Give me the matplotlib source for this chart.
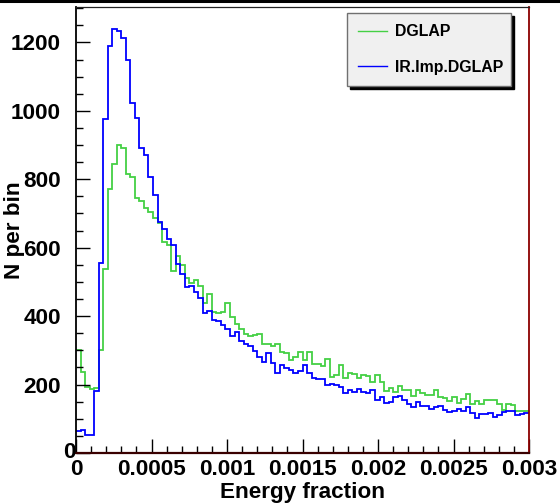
#!/usr/bin/env python3
"""Energy-fraction histograms, DGLAP vs IR.Imp.DGLAP (ROOT-style panel)."""

import matplotlib

matplotlib.use("Agg")
import matplotlib.pyplot as plt
import numpy as np
from matplotlib.lines import Line2D
from matplotlib.ticker import FixedLocator, FixedFormatter, MultipleLocator

X_MIN, X_MAX = 0.0, 0.003
N_BINS = 100

series_labels = ["DGLAP", "IR.Imp.DGLAP"]
series_colors = ["#44d044", "#0000ff"]

dglap_counts = [
    301, 236, 193, 188, 191, 301, 539, 773, 846, 900,
    890, 814, 807, 744, 736, 717, 704, 688, 671, 617,
    609, 532, 577, 550, 512, 498, 505, 487, 439, 466,
    412, 409, 412, 439, 398, 376, 362, 347, 342, 344,
    347, 318, 320, 312, 320, 295, 291, 271, 281, 295,
    271, 295, 261, 260, 254, 276, 222, 227, 256, 220,
    234, 230, 218, 227, 224, 207, 227, 207, 181, 191,
    178, 195, 185, 183, 167, 183, 176, 169, 169, 185,
    164, 162, 152, 164, 146, 159, 171, 142, 152, 144,
    154, 156, 156, 144, 125, 144, 139, 123, 123, 122,
]

ir_imp_counts = [
    64, 68, 52, 52, 181, 554, 975, 1190, 1240, 1234,
    1212, 1148, 1023, 978, 891, 870, 807, 755, 675, 656,
    624, 609, 552, 524, 484, 487, 471, 454, 408, 415,
    388, 386, 373, 361, 341, 354, 328, 320, 313, 298,
    281, 266, 292, 263, 234, 256, 247, 242, 234, 239,
    256, 234, 220, 217, 215, 198, 201, 198, 193, 176,
    185, 178, 188, 178, 176, 185, 156, 164, 146, 149,
    164, 166, 154, 144, 133, 149, 137, 137, 130, 133,
    137, 125, 120, 123, 130, 123, 133, 117, 101, 115,
    113, 117, 105, 110, 120, 123, 123, 110, 115, 118,
]

x_tick_values = [0, 0.0005, 0.001, 0.0015, 0.002, 0.0025, 0.003]
x_tick_labels = ["0", "0.0005", "0.001", "0.0015", "0.002", "0.0025", "0.003"]
y_tick_values = [0, 200, 400, 600, 800, 1000, 1200]
# the "0" of the y axis is drawn separately, nudged toward the corner like ROOT does
y_tick_labels = ["", "200", "400", "600", "800", "1000", "1200"]
y_zero_label = "0"

plt.rcParams["font.family"] = ["Liberation Sans", "DejaVu Sans"]
plt.rcParams["font.weight"] = "bold"

fig = plt.figure(figsize=(5.6, 5.03), dpi=100)
ax = fig.add_axes([76 / 560, 50 / 503, 453 / 560, 445.5 / 503])

edges = np.linspace(X_MIN, X_MAX, N_BINS + 1)
for counts, color in zip([dglap_counts, ir_imp_counts], series_colors):
    ax.stairs(counts, edges, baseline=None, color=color, linewidth=1.3)

ax.set_xlim(X_MIN, X_MAX)
ax.set_ylim(0, 1.05 * max(max(dglap_counts), max(ir_imp_counts)))

ax.xaxis.set_major_locator(FixedLocator(x_tick_values))
ax.xaxis.set_major_formatter(FixedFormatter(x_tick_labels))
ax.xaxis.set_minor_locator(MultipleLocator(0.0001))
ax.yaxis.set_major_locator(FixedLocator(y_tick_values))
ax.yaxis.set_major_formatter(FixedFormatter(y_tick_labels))
ax.yaxis.set_minor_locator(MultipleLocator(50))

ax.tick_params(which="both", direction="in", top=False, right=False,
               labelsize=16.2, color="black")
ax.tick_params(which="major", length=10, width=1.0)
ax.tick_params(which="minor", length=5, width=1.0)
ax.tick_params(axis="x", pad=4)
ax.tick_params(axis="y", pad=11)

ax.annotate(y_zero_label, xy=(X_MIN, 0), xytext=(-0.5, 0),
            textcoords="offset points", ha="right", va="center",
            fontsize=16.2, fontweight="bold", annotation_clip=False)

ax.spines["left"].set_color("black")
ax.spines["left"].set_linewidth(1.3)
ax.spines["bottom"].set_color("#3a0000")
ax.spines["bottom"].set_linewidth(1.6)
ax.spines["right"].set_color("#8b0000")
ax.spines["right"].set_linewidth(1.3)
ax.spines["top"].set_color("#222222")
ax.spines["top"].set_linewidth(0.9)

ax.set_xlabel("Energy fraction", fontsize=16.2, fontweight="bold")
ax.set_ylabel("N per bin", fontsize=16.2, fontweight="bold")
ax.xaxis.set_label_coords(0.5, -0.066)
ax.yaxis.set_label_coords(-0.113, 0.5)

handles = [Line2D([], [], color=c, linewidth=1.0) for c in series_colors]
legend = ax.legend(
    handles, series_labels,
    loc="upper left",
    bbox_to_anchor=(347 / 560, 1 - 89 / 503, 164 / 560, 76 / 503),
    bbox_transform=fig.transFigure,
    mode="expand",
    borderaxespad=0,
    fontsize=11.4,
    handlelength=1.85,
    handletextpad=0.45,
    labelspacing=1.3,
    borderpad=0.7,
    fancybox=False,
    framealpha=1,
    facecolor="#f0f0f0",
    edgecolor="#707070",
    shadow={"color": "black", "alpha": 1},
)
legend.get_frame().set_linewidth(1.0)

# thick canvas border line along the top edge
fig.add_artist(Line2D([0, 1], [1 - 1.2 / 503, 1 - 1.2 / 503],
                      transform=fig.transFigure, color="black", linewidth=2.2))

fig.savefig("out.png", dpi=100)
